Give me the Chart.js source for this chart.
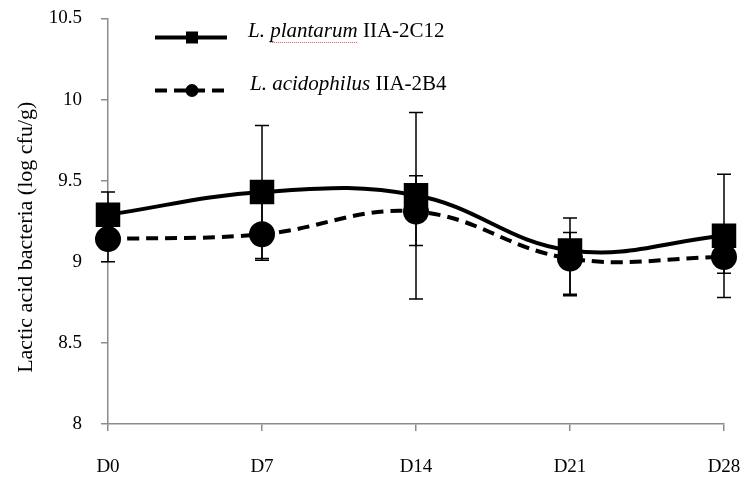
<!DOCTYPE html>
<html>
<head>
<meta charset="utf-8">
<script src="https://cdn.jsdelivr.net/npm/chart.js@4.4.1/dist/chart.umd.min.js"></script>
<style>
  body { margin: 0; background: #fff; }
</style>
</head>
<body>
<canvas id="lacticChart" width="748" height="480"></canvas>
<script>
    // values (log cfu/g)
    const days = ['D0', 'D7', 'D14', 'D21', 'D28'];
    const yTickLabels = ['8', '8.5', '9', '9.5', '10', '10.5'];

    const plantarumMean = [9.29, 9.43, 9.41, 9.07, 9.16];
    const plantarumHigh = [9.43, 9.84, 9.92, 9.27, 9.54];
    const plantarumLow = [9.15, 9.02, 8.77, 8.80, 8.78];

    const acidophilusMean = [9.14, 9.17, 9.31, 9.02, 9.03];
    const acidophilusHigh = [9.28, 9.40, 9.53, 9.18, 9.13];
    const acidophilusLow = [9.00, 9.01, 9.10, 8.79, 8.93];

    const legendNames = [
        { italic: 'L. plantarum', plain: ' IIA-2C12' },
        { italic: 'L. acidophilus', plain: ' IIA-2B4' }
    ];

    const serif = "'Liberation Serif', 'Times New Roman', serif";
    const axisGray = '#8c8c8c';

    const errorBars = {
        id: 'errorBars',
        afterDatasetsDraw(chart) {
            const ctx = chart.ctx;
            const y = chart.scales.y;
            ctx.save();
            ctx.strokeStyle = '#000';
            ctx.lineWidth = 1.5;
            chart.data.datasets.forEach((ds, i) => {
                const meta = chart.getDatasetMeta(i);
                meta.data.forEach((pt, j) => {
                    const top = y.getPixelForValue(ds.high[j]);
                    const bot = y.getPixelForValue(ds.low[j]);
                    ctx.beginPath();
                    ctx.moveTo(pt.x, top);
                    ctx.lineTo(pt.x, bot);
                    ctx.moveTo(pt.x - 7, top);
                    ctx.lineTo(pt.x + 7, top);
                    ctx.moveTo(pt.x - 7, bot);
                    ctx.lineTo(pt.x + 7, bot);
                    ctx.stroke();
                });
            });
            ctx.restore();
        }
    };

    const sideText = {
        id: 'sideText',
        afterDraw(chart) {
            const ctx = chart.ctx;
            const area = chart.chartArea;
            ctx.save();

            // y axis title
            ctx.fillStyle = '#000';
            ctx.font = '22px ' + serif;
            ctx.textAlign = 'center';
            ctx.textBaseline = 'middle';
            ctx.translate(26, (area.top + area.bottom) / 2 + 16);
            ctx.rotate(-Math.PI / 2);
            ctx.fillText('Lactic acid bacteria (log cfu/g)', 0, 0);
            ctx.setTransform(1, 0, 0, 1, 0, 0);

            // legend
            const rows = [area.top + 19, area.top + 72];
            chart.data.datasets.forEach((ds, i) => {
                const ly = rows[i];
                const x0 = area.left + 47;
                const x1 = area.left + 119;
                ctx.strokeStyle = '#000';
                ctx.lineWidth = 4;
                ctx.setLineDash(ds.borderDash || []);
                ctx.beginPath();
                ctx.moveTo(x0, ly);
                ctx.lineTo(x1, ly);
                ctx.stroke();
                ctx.setLineDash([]);
                ctx.fillStyle = '#000';
                const mx = area.left + 84;
                if (ds.pointStyle === 'rect') {
                    ctx.fillRect(mx - 6, ly - 6, 12, 12);
                } else {
                    ctx.beginPath();
                    ctx.arc(mx, ly, 6.5, 0, Math.PI * 2);
                    ctx.fill();
                }
                const tx = area.left + 140 + i * 2;
                ctx.textAlign = 'left';
                ctx.textBaseline = 'middle';
                ctx.font = 'italic 21px ' + serif;
                ctx.fillText(legendNames[i].italic, tx, ly - 6);
                const w = ctx.measureText(legendNames[i].italic).width;
                if (i === 0) {
                    // spell-check squiggle under "plantarum"
                    const w0 = ctx.measureText('L. ').width;
                    ctx.strokeStyle = '#e05050';
                    ctx.lineWidth = 1;
                    ctx.setLineDash([1, 1]);
                    ctx.beginPath();
                    ctx.moveTo(tx + w0, ly + 5);
                    ctx.lineTo(tx + w, ly + 5);
                    ctx.stroke();
                    ctx.setLineDash([]);
                }
                ctx.font = '21px ' + serif;
                ctx.fillText(legendNames[i].plain, tx + w, ly - 6);
            });
            ctx.restore();
        }
    };

    const ctx = document.getElementById('lacticChart').getContext('2d');
    new Chart(ctx, {
        type: 'line',
        data: {
            labels: days,
            datasets: [{
                label: 'L. plantarum IIA-2C12',
                data: plantarumMean,
                high: plantarumHigh,
                low: plantarumLow,
                borderColor: '#000',
                backgroundColor: '#000',
                borderWidth: 4,
                tension: 0.4,
                pointStyle: 'rect',
                pointRadius: 14.5,
                pointHoverRadius: 14.5
            }, {
                label: 'L. acidophilus IIA-2B4',
                data: acidophilusMean,
                high: acidophilusHigh,
                low: acidophilusLow,
                borderColor: '#000',
                backgroundColor: '#000',
                borderWidth: 4,
                borderDash: [12, 7],
                tension: 0.4,
                pointStyle: 'circle',
                pointRadius: 11,
                pointHoverRadius: 11
            }]
        },
        options: {
            responsive: false,
            animation: false,
            layout: { padding: { top: 18, right: 24, left: 0, bottom: 0 } },
            plugins: {
                legend: { display: false },
                tooltip: { enabled: false }
            },
            scales: {
                x: {
                    offset: false,
                    grid: { drawOnChartArea: false, color: axisGray, tickLength: 7, lineWidth: 1.5 },
                    border: { color: axisGray, width: 1.5 },
                    ticks: { color: '#000', font: { family: serif, size: 19 }, padding: 25, maxRotation: 0 },
                    afterFit(scale) {
                        scale.height = 56;
                        scale.paddingLeft = 0;
                        scale.paddingRight = 0;
                    }
                },
                y: {
                    min: 8,
                    max: 10.5,
                    grid: { drawOnChartArea: false, color: axisGray, tickLength: 7, lineWidth: 1.5 },
                    border: { color: axisGray, width: 1.5 },
                    ticks: {
                        stepSize: 0.5,
                        color: '#000',
                        font: { family: serif, size: 19 },
                        padding: 19,
                        callback: function (value, index) {
                            return yTickLabels[index];
                        }
                    },
                    afterFit(scale) {
                        scale.width = 108;
                        scale.paddingTop = 0;
                        scale.paddingBottom = 0;
                    }
                }
            }
        },
        plugins: [errorBars, sideText]
    });
</script>
</body>
</html>
